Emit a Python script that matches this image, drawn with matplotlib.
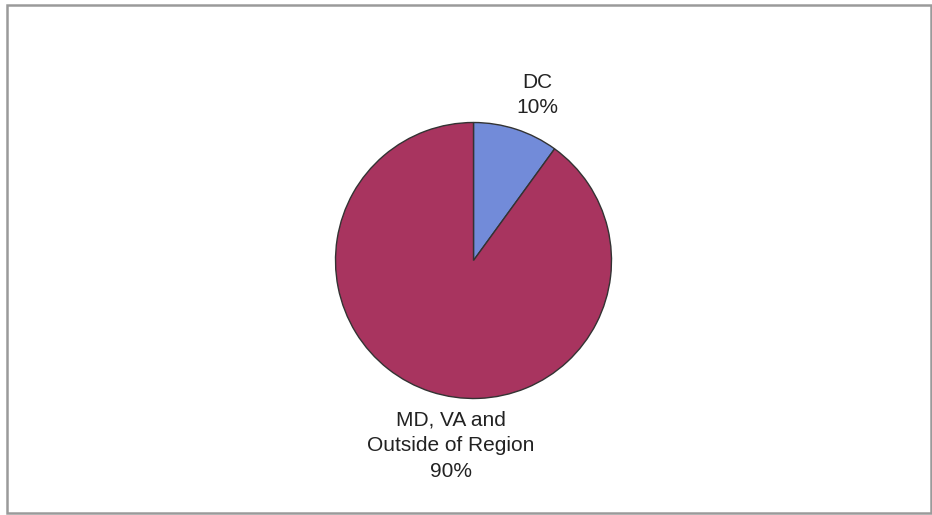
import matplotlib
matplotlib.use("Agg")
import matplotlib.pyplot as plt
import numpy as np
from matplotlib.patches import Rectangle

labels = ["DC", "MD, VA and\nOutside of Region"]
shares = [10, 90]
colors = ["#728bd9", "#a8345f"]

plt.rcParams["font.family"] = ["Liberation Sans", "DejaVu Sans"]

fig = plt.figure(figsize=(9.32, 5.15), dpi=100)
ax = fig.add_axes([0, 0, 1, 1])

cx, cy, r = 473.5, 254.5, 138
wedges, _ = ax.pie(shares, colors=colors, startangle=90, counterclock=False,
                   center=(cx, cy), radius=r, frame=True,
                   wedgeprops={"edgecolor": "#333333", "linewidth": 1.0})
ax.set_xlim(0, 932)
ax.set_ylim(0, 515)
ax.axis("off")

# label placement (angle in degrees, distance in radii), like Excel's best fit
label_pos = [(69, 1.285), (-97, 1.35)]
for lab, val, (ang, dist) in zip(labels, shares, label_pos):
    a = np.deg2rad(ang)
    ax.text(cx + dist * r * np.cos(a), cy + dist * r * np.sin(a),
            f"{lab}\n{val}%", ha="center", va="center", fontsize=15,
            color="#222222", linespacing=1.45)

ax.add_patch(Rectangle((7, 2), 924, 508, fill=False, edgecolor="#9a9a9a",
                       linewidth=1.8, clip_on=False))

fig.savefig("out.png", dpi=100)
